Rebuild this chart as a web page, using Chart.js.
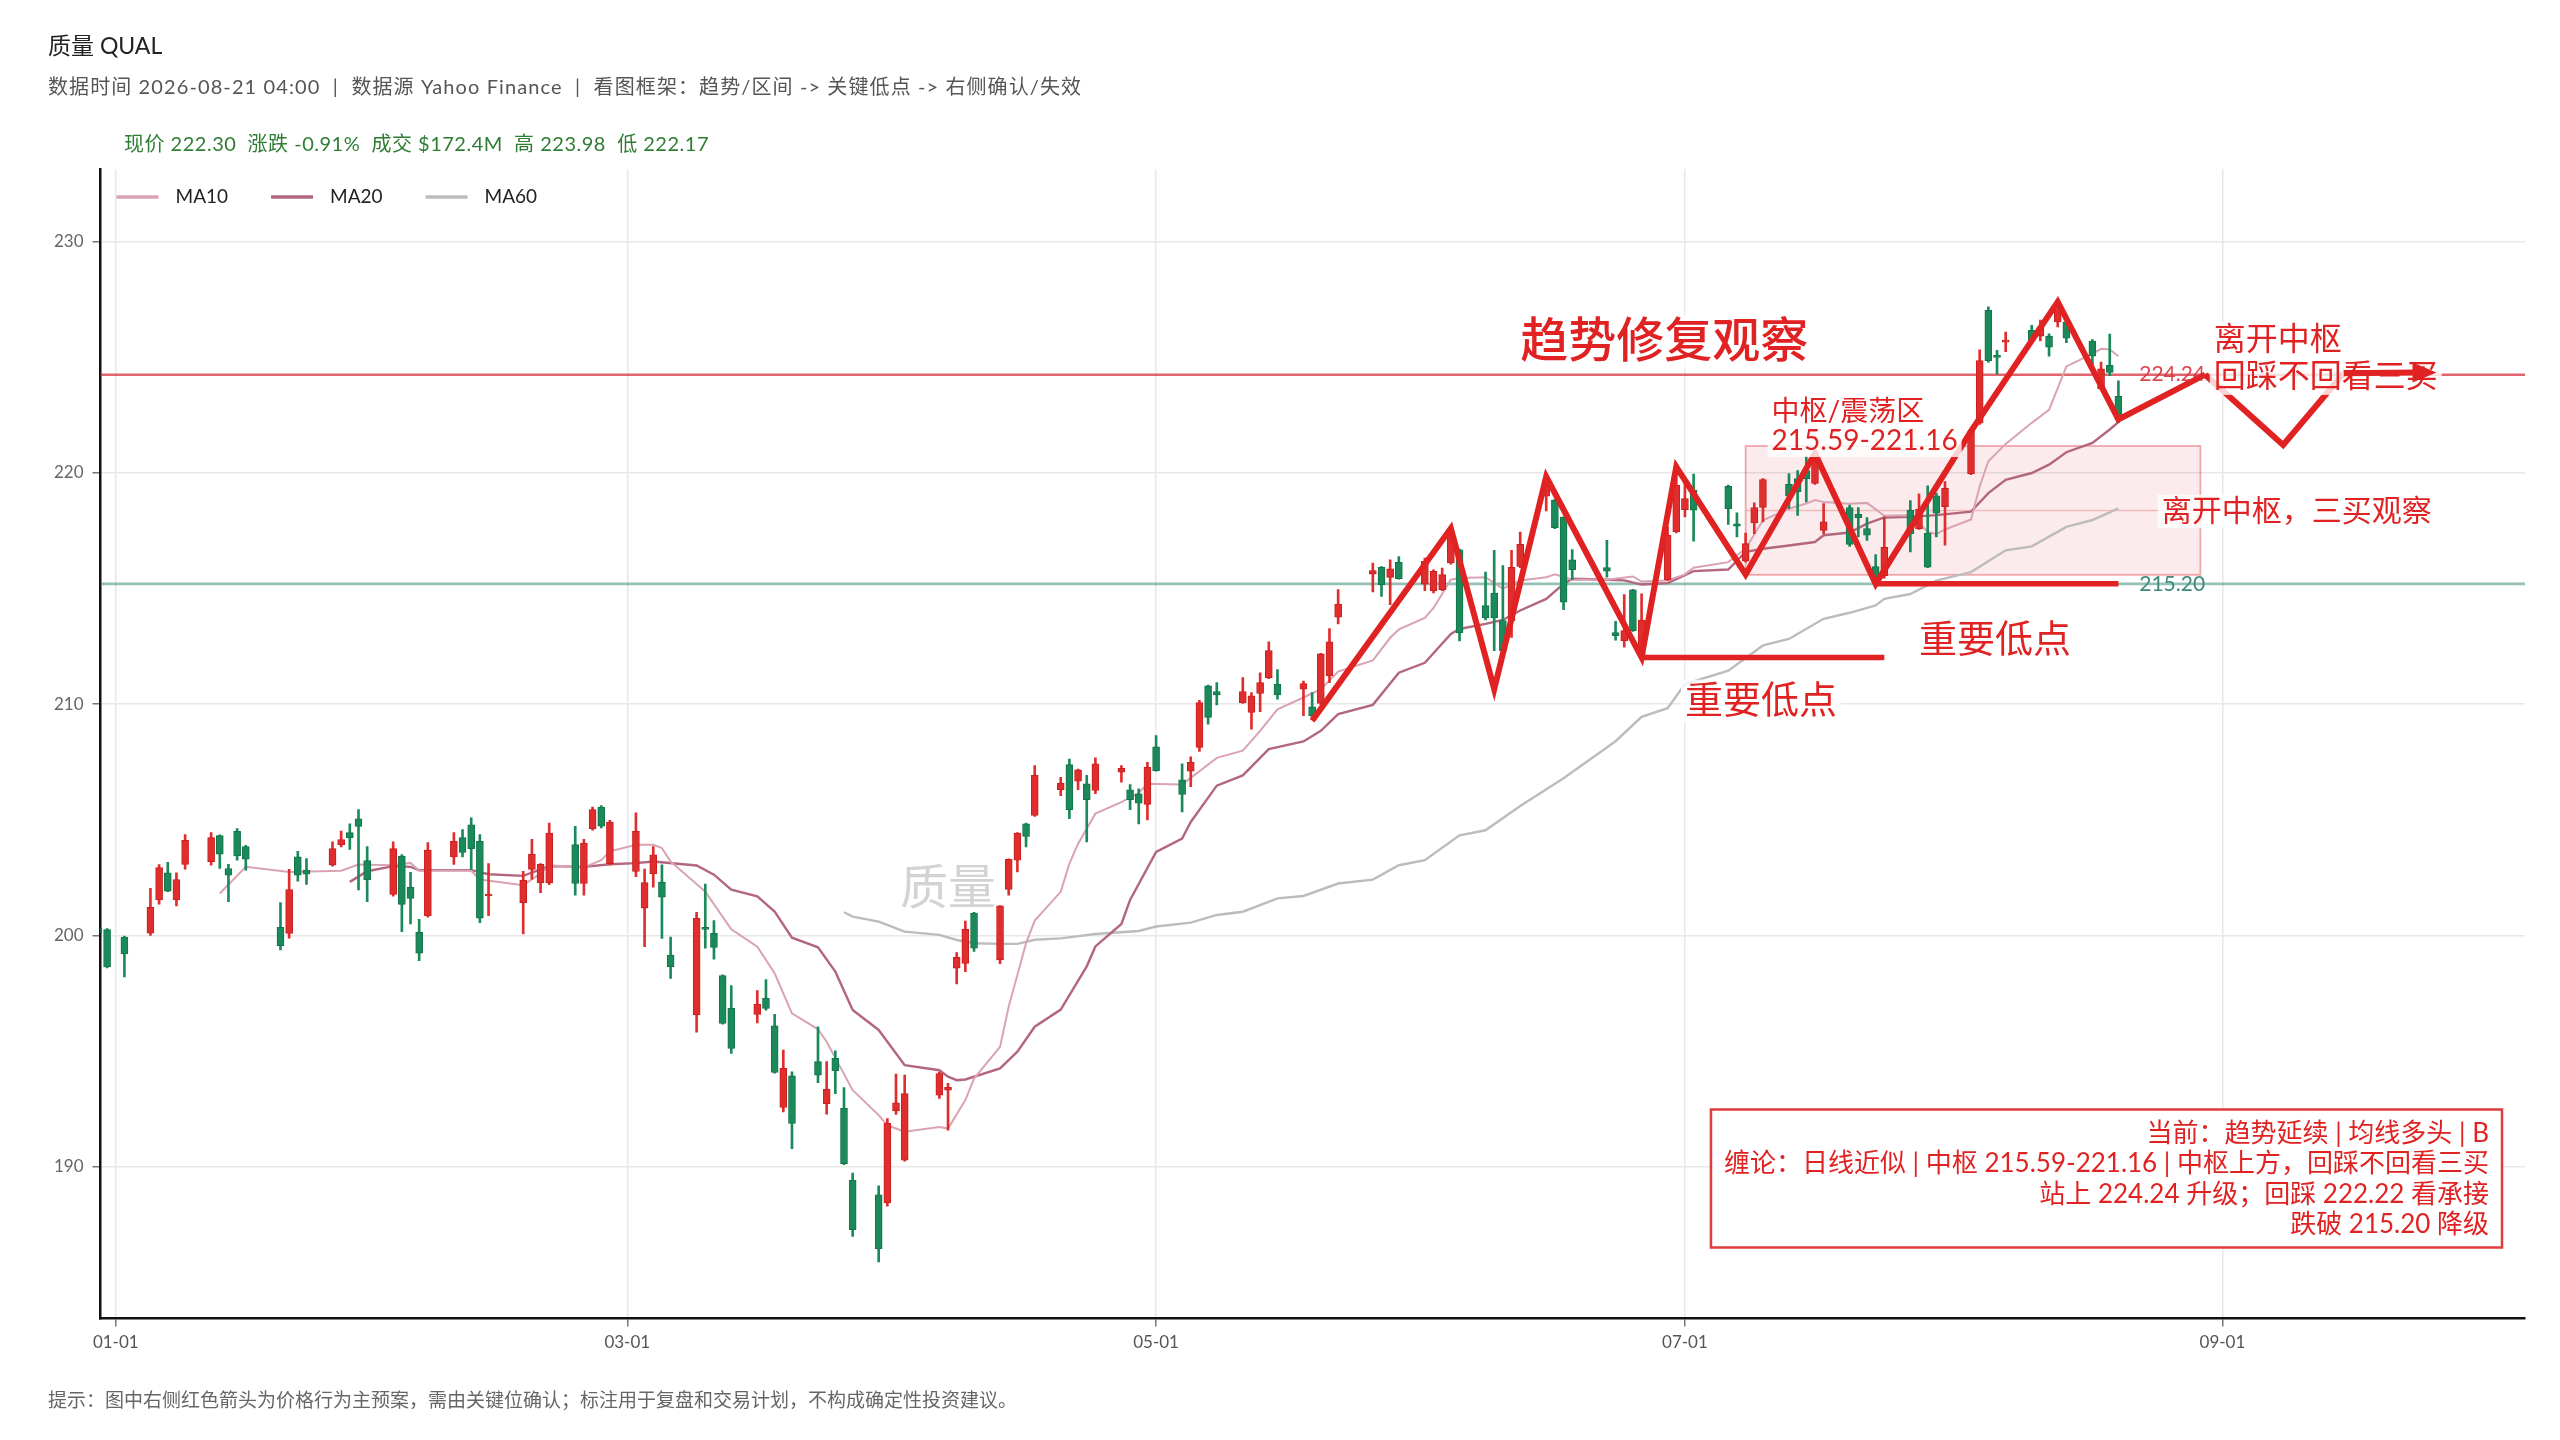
<!DOCTYPE html>
<html lang="zh-CN">
<head>
<meta charset="utf-8">
<title>质量 QUAL</title>
<script src="https://cdn.jsdelivr.net/npm/chart.js@4.4.1/dist/chart.umd.min.js"></script>
<style>
  html, body { margin: 0; padding: 0; background: #fff; }
  #wrap { position: relative; width: 2560px; height: 1440px; font-family: Lato, "Noto Sans CJK SC", sans-serif; }
  #c { position: absolute; left: 0; top: 0; }
  .txt { position: absolute; left: 48px; white-space: pre; line-height: 1; }
  #title { top: 34px; font-size: 23px; color: #222; }
  #sub { top: 76px; font-size: 20px; letter-spacing: 1.1px; color: #555; }
  #quote { top: 133px; left: 124px; font-size: 20px; letter-spacing: 0.5px; color: #2e7d32; }
  #note { top: 1390px; font-size: 19px; color: #666; }
</style>
</head>
<body>
<div id="wrap">
  <canvas id="c" width="2560" height="1440"></canvas>
  <div class="txt" id="title">质量 QUAL</div>
  <div class="txt" id="sub">数据时间 2026-08-21 04:00  |  数据源 Yahoo Finance  |  看图框架：趋势/区间 -> 关键低点 -> 右侧确认/失效</div>
  <div class="txt" id="quote">现价 222.30  涨跌 -0.91%  成交 $172.4M  高 223.98  低 222.17</div>
  <div class="txt" id="note">提示：图中右侧红色箭头为价格行为主预案，需由关键位确认；标注用于复盘和交易计划，不构成确定性投资建议。</div>
</div>
<script>
// daily candles
const dates = ['12-30','12-31','01-02','01-05','01-06','01-07','01-08','01-09','01-12','01-13','01-14','01-15','01-16',
  '01-20','01-21','01-22','01-23','01-26','01-27','01-28','01-29','01-30','02-02','02-03','02-04','02-05','02-06',
  '02-09','02-10','02-11','02-12','02-13','02-17','02-18','02-19','02-20','02-23','02-24','02-25','02-26','02-27',
  '03-02','03-03','03-04','03-05','03-06','03-09','03-10','03-11','03-12','03-13','03-16','03-17','03-18','03-19','03-20',
  '03-23','03-24','03-25','03-26','03-27','03-30','03-31','04-01','04-02','04-06','04-07','04-08','04-09','04-10',
  '04-13','04-14','04-15','04-16','04-17','04-20','04-21','04-22','04-23','04-24','04-27','04-28','04-29','04-30','05-01',
  '05-04','05-05','05-06','05-07','05-08','05-11','05-12','05-13','05-14','05-15','05-18','05-19','05-20','05-21','05-22',
  '05-26','05-27','05-28','05-29','06-01','06-02','06-03','06-04','06-05','06-08','06-09','06-10','06-11','06-12',
  '06-15','06-16','06-17','06-18','06-22','06-23','06-24','06-25','06-26','06-29','06-30','07-01','07-02',
  '07-06','07-07','07-08','07-09','07-10','07-13','07-14','07-15','07-16','07-17','07-20','07-21','07-22','07-23','07-24',
  '07-27','07-28','07-29','07-30','07-31','08-03','08-04','08-05','08-06','08-07','08-10','08-11','08-12','08-13','08-14',
  '08-17','08-18','08-19','08-20'];
const opens = [200.32,200.26,199.93,200.10,201.54,202.71,201.54,203.08,203.19,204.32,202.90,204.50,203.85,
  200.36,200.09,203.40,202.83,203.04,203.93,204.45,205.05,203.24,201.78,203.44,202.08,200.14,200.86,
  203.40,204.23,204.79,204.07,201.71,201.42,202.86,202.28,202.28,203.93,202.25,204.62,205.55,203.11,
  202.77,201.18,202.67,202.31,199.16,196.57,200.35,200.10,198.27,196.85,196.59,197.29,196.10,192.57,193.94,
  194.55,192.74,194.69,192.53,189.42,188.80,188.44,192.42,190.29,193.10,193.32,198.59,198.80,200.97,
  198.95,201.99,203.26,204.83,205.19,206.30,207.39,206.67,206.56,206.27,207.06,206.30,206.13,205.67,208.16,
  206.73,207.10,208.13,210.79,210.55,210.07,209.64,210.46,211.15,210.86,210.65,209.89,210.03,211.22,213.76,
  215.62,215.91,215.48,216.13,215.19,214.91,214.95,216.10,216.67,214.26,214.80,213.61,213.61,215.95,
  218.99,218.82,218.09,216.24,215.90,213.09,212.75,214.94,212.10,215.38,217.44,218.41,219.25,
  219.42,217.80,216.18,217.83,218.50,219.50,219.75,220.10,219.54,217.51,218.50,218.21,217.59,215.95,215.55,
  218.39,217.59,217.38,219.00,218.54,219.96,222.14,227.03,225.07,225.65,226.16,225.90,225.91,226.52,226.52,
  225.69,223.62,224.65,223.31];
const highs = [200.67,200.30,199.98,202.04,203.07,203.16,202.71,204.36,204.45,204.35,203.08,204.62,203.90,
  201.43,202.86,203.64,203.33,204.05,204.52,204.83,205.44,203.85,204.05,203.50,202.73,200.70,204.02,
  204.45,204.58,205.09,204.36,203.11,202.78,204.16,203.11,204.86,204.72,204.16,205.55,205.62,204.98,
  205.30,202.87,203.85,203.06,199.93,201.00,202.22,200.65,198.30,197.84,197.62,198.10,196.60,195.05,194.11,
  196.06,194.55,195.02,193.43,189.74,189.18,192.09,194.01,193.97,194.10,193.61,199.26,200.63,201.00,
  201.30,203.32,204.45,204.86,207.35,206.84,207.63,207.20,206.92,207.68,207.35,206.53,206.34,207.49,208.64,
  207.42,207.73,210.17,210.83,210.93,211.15,210.50,211.36,212.70,211.50,211.00,210.50,212.20,213.27,214.95,
  216.10,215.95,216.24,216.38,216.31,215.81,215.88,217.46,216.70,215.71,216.65,215.99,216.65,217.44,
  219.97,218.85,218.10,216.68,217.08,213.58,214.74,214.96,214.77,217.66,219.83,219.57,219.94,
  219.47,218.27,217.40,218.70,219.75,219.97,220.10,220.70,220.70,218.67,218.60,218.50,218.06,216.47,218.10,
  218.80,219.09,219.44,219.12,219.62,221.85,225.31,227.17,225.29,226.08,226.37,226.60,226.01,227.32,226.59,
  225.76,224.78,226.00,223.98];
const lows = [200.08,198.60,198.21,200.01,201.36,201.90,201.28,202.87,203.04,202.90,201.46,203.26,202.83,
  199.38,199.89,202.35,202.21,203.00,203.83,203.72,201.97,201.46,201.70,200.17,200.50,198.92,200.80,
  203.07,203.40,202.86,200.56,200.86,200.07,202.44,201.85,202.20,201.75,201.75,204.55,204.65,203.05,
  202.55,199.52,202.09,199.88,198.15,195.82,199.45,198.98,196.17,194.91,196.23,196.78,194.05,192.38,190.79,
  193.64,192.28,193.17,190.10,187.00,185.89,188.30,192.27,190.25,192.96,191.59,197.91,198.44,199.31,
  198.78,201.75,202.75,203.83,205.15,206.05,205.05,206.30,204.05,206.13,206.63,205.44,204.83,205.00,207.10,
  205.34,206.44,207.96,209.14,209.97,210.03,208.92,209.68,211.10,210.22,209.50,209.35,209.98,210.93,213.47,
  214.85,214.66,214.30,215.40,214.91,214.81,214.91,216.05,212.73,213.64,212.31,212.28,212.89,215.90,
  218.35,217.59,214.08,215.38,215.49,212.77,212.46,213.15,212.00,215.35,217.40,218.09,217.05,
  217.77,217.23,216.14,217.37,217.88,218.45,218.16,218.74,219.50,217.37,216.82,217.23,217.08,215.13,215.45,
  216.58,217.55,215.90,217.23,216.87,219.92,222.09,224.78,224.27,225.24,225.68,225.70,225.04,226.30,225.62,
  224.56,223.60,224.20,222.17];
const closes = [200.10,198.64,199.21,201.22,202.94,201.92,202.42,204.12,204.23,203.52,202.61,203.44,203.30,
  199.56,201.99,202.61,202.65,203.76,204.15,204.23,204.72,202.40,203.76,201.35,201.61,199.24,203.69,
  204.07,203.59,203.76,200.75,201.78,202.40,203.52,203.08,204.43,202.25,204.00,205.44,204.73,204.91,
  204.50,202.29,203.49,201.66,198.66,200.75,200.27,199.49,196.20,195.12,197.03,196.85,194.08,194.26,191.88,
  193.97,193.35,194.16,190.14,187.29,186.46,191.88,192.77,193.17,194.04,193.44,199.06,200.27,199.45,
  201.28,203.29,204.43,204.29,206.92,206.59,205.44,207.16,205.87,207.42,207.23,205.87,205.72,207.27,207.13,
  206.10,207.49,210.07,209.43,210.40,210.55,210.36,210.93,212.32,210.40,210.89,209.50,212.18,212.70,214.33,
  215.77,215.16,215.85,215.42,216.17,215.74,215.60,217.32,213.08,213.73,213.73,212.31,215.92,216.91,
  219.71,217.63,214.41,215.81,215.75,212.96,213.18,213.18,213.64,217.30,219.47,218.89,218.38,
  218.45,217.69,216.94,218.50,219.71,219.00,219.18,219.75,220.48,217.88,216.91,218.06,217.30,215.40,216.79,
  217.37,218.42,215.92,218.25,219.33,221.80,224.85,224.85,224.99,225.72,225.72,226.30,225.43,227.03,225.82,
  225.04,224.49,224.34,222.30];

// moving averages
const ma10 = [['01-13',201.82],['01-16',202.97],['01-21',202.75],['01-27',202.80],['01-29',203.07],['02-02',203.04],
  ['02-04',203.14],['02-05',202.80],['02-11',202.80],['02-12',202.42],['02-17',202.18],['02-19',202.68],['02-20',203.04],
  ['02-24',202.94],['02-26',203.26],['02-27',203.64],['03-02',203.92],['03-04',203.92],['03-05',203.78],['03-06',203.20],
  ['03-10',201.90],['03-13',200.27],['03-16',199.52],['03-18',198.37],['03-20',196.64],['03-23',195.95],['03-24',195.41],
  ['03-27',193.32],['03-30',192.24],['03-31',191.80],['04-02',191.52],['04-06',191.73],['04-07',191.66],['04-09',192.89],
  ['04-10',193.82],['04-13',195.19],['04-14',196.93],['04-16',199.67],['04-17',200.65],['04-20',201.89],['04-21',203.11],
  ['04-22',203.97],['04-24',205.27],['04-27',205.77],['04-29',206.16],['04-30',206.56],['05-04',206.53],['05-08',207.68],
  ['05-11',207.99],['05-13',208.85],['05-15',209.78],['05-18',210.29],['05-20',210.65],['05-22',211.41],['05-26',211.89],
  ['05-28',212.87],['05-29',213.23],['06-01',213.73],['06-02',214.16],['06-04',215.38],['06-05',215.45],['06-08',215.49],
  ['06-10',214.99],['06-12',215.35],['06-15',215.49],['06-16',215.61],['06-18',215.38],['06-22',215.38],['06-25',215.52],
  ['06-26',215.30],['06-29',215.35],['07-01',215.61],['07-02',215.90],['07-06',216.14],['07-08',216.72],['07-10',217.95],
  ['07-13',218.45],['07-15',218.67],['07-16',218.82],['07-17',218.74],['07-20',218.66],['07-22',218.70],['07-24',218.14],
  ['07-27',218.17],['07-29',217.45],['07-30',217.35],['07-31',217.55],['08-03',217.98],['08-04',219.41],['08-05',220.50],
  ['08-07',221.25],['08-10',222.16],['08-12',222.72],['08-14',224.60],['08-17',225.14],['08-18',225.36],['08-19',225.33],
  ['08-20',225.04]];
const ma20 = [['01-28',202.32],['01-30',202.78],['02-02',203.00],['02-04',202.97],['02-05',202.83],['02-11',202.83],
  ['02-13',202.65],['02-17',202.58],['02-20',203.00],['02-24',202.97],['02-27',203.08],['03-02',203.13],['03-04',203.20],
  ['03-09',203.03],['03-11',202.63],['03-13',201.98],['03-16',201.69],['03-18',201.04],['03-20',199.91],['03-23',199.49],
  ['03-25',198.44],['03-27',196.78],['03-30',195.92],['04-02',194.40],['04-06',194.18],['04-07',193.90],['04-08',193.75],
  ['04-09',193.78],['04-13',194.26],['04-15',194.98],['04-17',196.06],['04-20',196.80],['04-23',198.67],['04-24',199.53],
  ['04-27',200.50],['04-28',201.54],['05-01',203.62],['05-04',204.19],['05-05',204.91],['05-08',206.48],['05-11',206.92],
  ['05-14',208.06],['05-18',208.39],['05-20',208.85],['05-22',209.57],['05-26',209.97],['05-29',211.36],['06-01',211.79],
  ['06-04',213.04],['06-05',213.25],['06-08',213.47],['06-10',213.64],['06-12',214.05],['06-15',214.55],['06-17',215.20],
  ['06-18',215.42],['06-22',215.38],['06-24',215.35],['06-26',215.17],['06-29',215.23],['07-02',215.75],['07-06',215.82],
  ['07-08',216.58],['07-10',216.72],['07-13',216.86],['07-16',217.01],['07-17',217.30],['07-20',217.42],['07-22',217.80],
  ['07-24',218.07],['07-27',218.10],['07-30',218.17],['08-03',218.32],['08-05',219.12],['08-07',219.70],['08-10',219.99],
  ['08-12',220.35],['08-14',220.89],['08-17',221.29],['08-19',221.87],['08-20',222.19]];
const ma60 = [['03-26',201.01],['03-27',200.82],['03-30',200.60],['04-02',200.17],['04-06',200.03],['04-08',199.81],
  ['04-10',199.67],['04-13',199.64],['04-15',199.64],['04-17',199.82],['04-20',199.88],['04-24',200.07],['04-29',200.20],
  ['05-01',200.39],['05-05',200.56],['05-08',200.89],['05-11',201.03],['05-15',201.61],['05-18',201.71],['05-22',202.25],
  ['05-26',202.42],['05-29',203.04],['06-01',203.26],['06-05',204.33],['06-08',204.55],['06-12',205.60],['06-17',206.80],
  ['06-23',208.40],['06-26',209.45],['06-29',209.83],['07-01',210.87],['07-06',211.45],['07-10',212.54],['07-13',212.82],
  ['07-17',213.69],['07-20',213.95],['07-23',214.27],['07-24',214.55],['07-27',214.76],['07-30',215.34],['08-03',215.71],
  ['08-07',216.65],['08-10',216.82],['08-14',217.66],['08-17',217.96],['08-20',218.46]];

// hand-drawn style annotations, in date / price terms
const swingDates  = ['05-19','06-04','06-09','06-15','06-26','06-30','07-08','07-16','07-23','08-03','08-13','08-20','08-30'];
const swingPrices = [209.28,217.60,210.65,219.83,212.02,220.26,215.61,220.84,215.20,221.80,227.39,222.31,224.24];
const planDates   = ['08-30','09-08','09-15','09-25'];
const planPrices  = [224.24,221.20,224.30,224.33];
const lowA = { from: '06-26', to: '07-24', price: 212.02 };
const lowB = { from: '07-23', to: '08-20', price: 215.20 };
const upperLevel = 224.24;
const lowerLevel = 215.20;
const zone = { from: '07-08', to: '08-29', low: 215.59, high: 221.16 };

const xTicks = ['01-01','03-01','05-01','07-01','09-01'];
const yTicks = [190, 200, 210, 220, 230];

const infoLines = [
  '当前：趋势延续 | 均线多头 | B',
  '缠论：日线近似 | 中枢 215.59-221.16 | 中枢上方，回踩不回看三买',
  '站上 224.24 升级；回踩 222.22 看承接',
  '跌破 215.20 降级'
];

function dayOf(md) {
  const [m, d] = md.split('-').map(Number);
  const year = m === 12 ? 2025 : 2026;
  return Math.round((Date.UTC(year, m - 1, d) - Date.UTC(2026, 0, 1)) / 86400000);
}

const UP = '#e02e2e', DOWN = '#1b8a5a';
const UP_EDGE = '#c81f1f', DOWN_EDGE = '#13744a';
const RED = '#e02222';
const FONT = 'Lato, "Noto Sans CJK SC", sans-serif';

const isUp = closes.map((c, i) => c >= opens[i]);
const pts = (list) => list.map(([d, v]) => ({ x: dayOf(d), y: v }));
const pair = (ds, vs) => ds.map((d, i) => ({ x: dayOf(d), y: vs[i] }));

const datasets = [
  {
    type: 'bar', label: 'wick',
    data: dates.map((d, i) => ({ x: dayOf(d), y: [lows[i], highs[i]] })),
    backgroundColor: isUp.map(u => u ? UP : DOWN),
    barThickness: 2, grouped: false, order: 2
  },
  {
    type: 'bar', label: 'body',
    data: dates.map((d, i) => ({ x: dayOf(d), y: [opens[i], closes[i]] })),
    backgroundColor: isUp.map(u => u ? UP : DOWN),
    borderColor: isUp.map(u => u ? UP_EDGE : DOWN_EDGE),
    borderWidth: 1, borderSkipped: false, minBarLength: 2,
    barThickness: 7, grouped: false, order: 1
  },
  { type: 'line', label: 'MA10', data: pts(ma10), borderColor: '#d9a3b4', borderWidth: 2, pointRadius: 0, order: 3 },
  { type: 'line', label: 'MA20', data: pts(ma20), borderColor: '#b3677f', borderWidth: 2.4, pointRadius: 0, order: 3 },
  { type: 'line', label: 'MA60', data: pts(ma60), borderColor: '#bcbcbc', borderWidth: 2.4, pointRadius: 0, order: 3 },
  { type: 'line', label: 'swing', data: pair(swingDates, swingPrices), borderColor: RED, borderWidth: 6,
    borderJoinStyle: 'miter', pointRadius: 0, order: 0 },
  { type: 'line', label: 'plan', data: pair(planDates.slice(0, 3), planPrices.slice(0, 3)), borderColor: RED, borderWidth: 6,
    borderJoinStyle: 'miter', pointRadius: 0, order: 0 },
  { type: 'line', label: 'lowA', data: [{ x: dayOf(lowA.from), y: lowA.price }, { x: dayOf(lowA.to), y: lowA.price }],
    borderColor: RED, borderWidth: 5.5, pointRadius: 0, order: 0 },
  { type: 'line', label: 'lowB', data: [{ x: dayOf(lowB.from), y: lowB.price }, { x: dayOf(lowB.to), y: lowB.price }],
    borderColor: RED, borderWidth: 5.5, pointRadius: 0, order: 0 }
];

function boxedText(ctx, text, x, y, size, color, align, weight) {
  ctx.font = `${weight || 400} ${size}px ${FONT}`;
  const w = ctx.measureText(text).width;
  const left = align === 'right' ? x - w : x;
  ctx.fillStyle = 'rgba(255,255,255,0.8)';
  ctx.fillRect(left - 4, y - size * 0.56, w + 8, size * 1.12);
  ctx.fillStyle = color;
  ctx.textAlign = 'left';
  ctx.textBaseline = 'middle';
  ctx.fillText(text, left, y);
}

const notes = [
  { t: '趋势修复观察', d: '06-12', p: 225.66, size: 48, weight: 500 },
  { t: '中枢/震荡区', d: '07-11', p: 222.64, size: 28 },
  { t: '215.59-221.16', d: '07-11', p: 221.36, size: 28 },
  { t: '重要低点', d: '07-01', p: 210.14, size: 38 },
  { t: '重要低点', d: '07-28', p: 212.78, size: 38 },
  { t: '离开中枢', d: '08-31', p: 225.74, size: 32 },
  { t: '回踩不回看三买', d: '08-31', p: 224.14, size: 32 },
  { t: '离开中枢，三买观察', d: '08-25', p: 218.33, size: 30 }
];

const annot = {
  id: 'annot',
  beforeDatasetsDraw(chart) {
    const { ctx, chartArea: a, scales: { x, y } } = chart;
    ctx.save();
    ctx.beginPath(); ctx.rect(a.left, a.top, a.right - a.left, a.bottom - a.top); ctx.clip();
    // watermark
    ctx.font = `48px ${FONT}`;
    ctx.fillStyle = 'rgba(150,150,150,0.42)';
    ctx.textAlign = 'center'; ctx.textBaseline = 'middle';
    ctx.fillText('质量', x.getPixelForValue(dayOf('04-07')), y.getPixelForValue(202.05));
    // pivot zone
    const zx0 = x.getPixelForValue(dayOf(zone.from)), zx1 = x.getPixelForValue(dayOf(zone.to)) + 4;
    const zy0 = y.getPixelForValue(zone.high), zy1 = y.getPixelForValue(zone.low);
    ctx.fillStyle = 'rgba(222,70,80,0.11)';
    ctx.fillRect(zx0, zy0, zx1 - zx0, zy1 - zy0);
    ctx.strokeStyle = 'rgba(222,70,80,0.45)'; ctx.lineWidth = 1.8;
    ctx.strokeRect(zx0, zy0, zx1 - zx0, zy1 - zy0);
    const zm = y.getPixelForValue((zone.low + zone.high) / 2);
    ctx.strokeStyle = 'rgba(222,70,80,0.3)'; ctx.lineWidth = 1.5;
    ctx.beginPath(); ctx.moveTo(zx0, zm); ctx.lineTo(zx1, zm); ctx.stroke();
    // key levels
    ctx.lineWidth = 2.6;
    ctx.strokeStyle = 'rgba(214,50,60,0.75)';
    let ly = y.getPixelForValue(upperLevel);
    ctx.beginPath(); ctx.moveTo(a.left, ly); ctx.lineTo(a.right, ly); ctx.stroke();
    ctx.strokeStyle = 'rgba(60,140,120,0.55)';
    ly = y.getPixelForValue(lowerLevel);
    ctx.beginPath(); ctx.moveTo(a.left, ly); ctx.lineTo(a.right, ly); ctx.stroke();
    ctx.restore();
  },
  afterDatasetsDraw(chart) {
    const { ctx, chartArea: a, scales: { x, y } } = chart;
    ctx.save();
    // level labels
    ctx.font = `21px ${FONT}`;
    ctx.textAlign = 'right'; ctx.textBaseline = 'middle';
    ctx.fillStyle = 'rgba(214,50,60,0.9)';
    ctx.fillText(upperLevel.toFixed(2), x.getPixelForValue(dayOf('08-30')), y.getPixelForValue(upperLevel));
    ctx.fillStyle = '#3d8a78';
    ctx.fillText(lowerLevel.toFixed(2), x.getPixelForValue(dayOf('08-30')), y.getPixelForValue(lowerLevel));
    // notes
    notes.forEach(n => boxedText(ctx, n.t, x.getPixelForValue(dayOf(n.d)), y.getPixelForValue(n.p), n.size, RED, 'left', n.weight));
    // arrow tip of the plan
    const n = planDates.length;
    const ax0 = x.getPixelForValue(dayOf(planDates[n - 2])), ay0 = y.getPixelForValue(planPrices[n - 2]);
    const ax1 = x.getPixelForValue(dayOf(planDates[n - 1])), ay1 = y.getPixelForValue(planPrices[n - 1]);
    ctx.strokeStyle = RED; ctx.fillStyle = RED; ctx.lineWidth = 6;
    ctx.beginPath(); ctx.moveTo(ax0, ay0); ctx.lineTo(ax1 - 14, ay1); ctx.stroke();
    ctx.beginPath(); ctx.moveTo(ax1 + 6, ay1); ctx.lineTo(ax1 - 18, ay1 - 10); ctx.lineTo(ax1 - 18, ay1 + 10); ctx.closePath(); ctx.fill();
    // legend
    let lx = a.left + 16;
    const legY = a.top + 28;
    ctx.font = `19px ${FONT}`; ctx.textAlign = 'left'; ctx.textBaseline = 'middle';
    chart.data.datasets.filter(ds => /^MA/.test(ds.label)).forEach(ds => {
      ctx.strokeStyle = ds.borderColor; ctx.lineWidth = 3.4;
      ctx.beginPath(); ctx.moveTo(lx, legY); ctx.lineTo(lx + 42, legY); ctx.stroke();
      ctx.fillStyle = '#222';
      ctx.fillText(ds.label, lx + 59, legY);
      lx += 59 + ctx.measureText(ds.label).width + 43;
    });
    // info box
    ctx.font = `26px ${FONT}`;
    const w = Math.max(...infoLines.map(t => ctx.measureText(t).width));
    const bx1 = a.right - 23, by1 = a.bottom - 71;
    const bw = w + 26, bh = 138;
    ctx.fillStyle = '#fff';
    ctx.fillRect(bx1 - bw, by1 - bh, bw, bh);
    ctx.strokeStyle = '#e03c3c'; ctx.lineWidth = 2.5;
    ctx.strokeRect(bx1 - bw, by1 - bh, bw, bh);
    ctx.fillStyle = RED; ctx.textAlign = 'right';
    infoLines.forEach((t, i) => ctx.fillText(t, bx1 - 13, by1 - bh + 24 + i * 30.5));
    ctx.restore();
  }
};

new Chart(document.getElementById('c'), {
  type: 'bar',
  data: { datasets },
  options: {
    responsive: false,
    devicePixelRatio: 1,
    animation: false,
    events: [],
    layout: { padding: { top: 169, right: 35, left: 0, bottom: 0 } },
    plugins: { legend: { display: false }, tooltip: { enabled: false } },
    scales: {
      x: {
        type: 'linear', min: -1.76, max: 277.9, offset: false,
        afterBuildTicks: s => { s.ticks = xTicks.map(t => ({ value: dayOf(t) })); },
        afterFit: s => { s.height = 121.5; },
        ticks: {
          autoSkip: false, maxRotation: 0, padding: 6, color: '#555', font: { family: FONT, size: 17 },
          callback: v => xTicks.find(t => dayOf(t) === v) || ''
        },
        grid: { color: '#e8e8e8', lineWidth: 1.5, offset: false, tickLength: 8, tickColor: '#777' },
        border: { display: true, color: '#111', width: 2.5 }
      },
      y: {
        type: 'linear', min: 183.45, max: 233.13, position: 'left',
        afterBuildTicks: s => { s.ticks = yTicks.map(v => ({ value: v })); },
        afterFit: s => { s.width = 100.5; },
        ticks: { padding: 9, color: '#666', font: { family: FONT, size: 17 } },
        grid: { color: '#e8e8e8', lineWidth: 1.5, tickLength: 8, tickColor: '#777' },
        border: { display: true, color: '#111', width: 2.5 }
      }
    }
  },
  plugins: [annot]
});
</script>
</body>
</html>
